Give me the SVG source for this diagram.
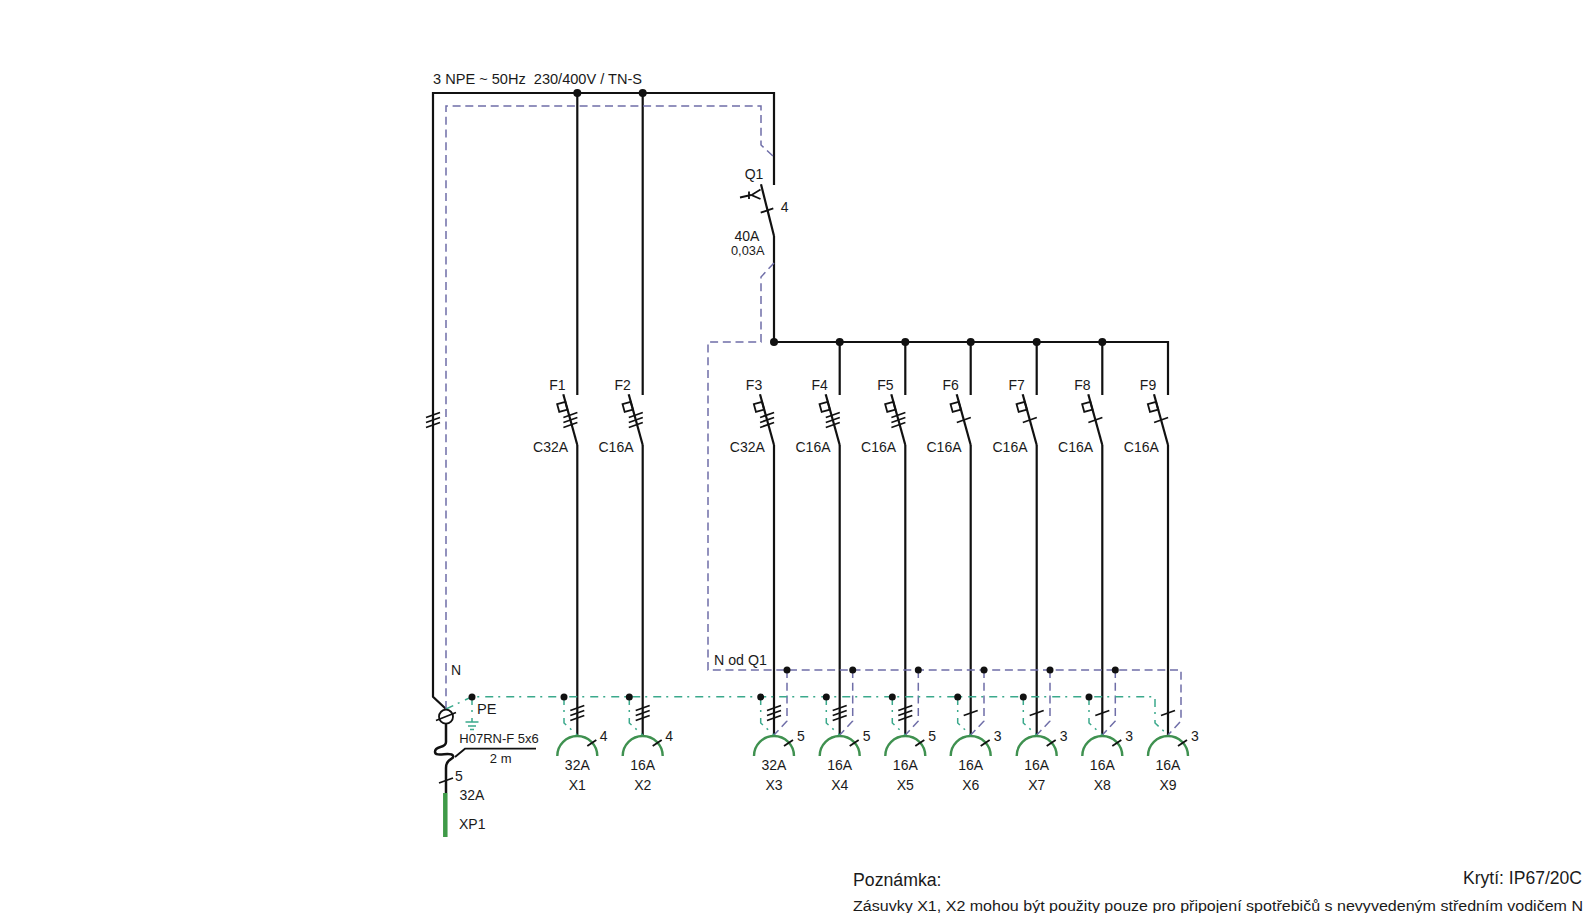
<svg xmlns="http://www.w3.org/2000/svg" width="1596" height="913" viewBox="0 0 1596 913">
<style>
text{font-family:"Liberation Sans",Arial,sans-serif;font-size:14px;fill:#1a1a1a;white-space:pre}
.m{text-anchor:middle}
.k{fill:none;stroke:#111;stroke-width:2.2}
.t{fill:none;stroke:#111;stroke-width:1.8}
.b{fill:none;stroke:#6f6ea8;stroke-width:1.5;stroke-dasharray:8 4.7}
.g{fill:none;stroke:#3ba98c;stroke-width:1.5;stroke-dasharray:8 5 2 6}
.a{fill:none;stroke:#3f9150;stroke-width:2.4}
.d{fill:#111}
</style>
<defs>
<g id="breaker"><path class="k" d="M-14 394.3L0 445"/><rect class="t" x="-8.5" y="-4" width="8.5" height="8" transform="translate(-10.9 405.7) rotate(-15.4)"/></g>
<path id="ticks1" class="t" d="M-7 2.5L7 -2.5"/>
<path id="ticks3" class="t" d="M-7 -2.5L7 -7.5M-7 2.5L7 -2.5M-7 7.5L7 2.5"/>
<g id="socket"><path class="a" d="M-20 756A20 20 0 0 1 20 756"/><path class="t" d="M10 746L19 740"/></g>
</defs>
<g id="connectors">
<path class="k" d="M446 709L433 696.7V93H774V185"/>
<path class="k" d="M774 236V342M774 342H1168V395"/>
<path class="k" d="M577.3 93V395M642.7 93V395"/>
<path class="k" d="M839.7 342V395M905.3 342V395M970.7 342V395M1036.7 342V395M1102.3 342V395"/>
<path class="k" d="M577.3 445V735M642.7 445V735M774 445V735M839.7 445V735M905.3 445V735M970.7 445V735M1036.7 445V735M1102.3 445V735M1168 445V735"/>
<path class="b" d="M446 709V106H761V145L774 157"/>
<path class="b" d="M774 263L761 277V342H708V670H1181V721L1168 735"/>
<path class="b" d="M787 670V721L774 735M852.7 670V721L839.7 735M918.3 670V721L905.3 735M984 670V721L970.7 735M1050 670V721L1036.7 735M1115.3 670V721L1102.3 735"/>
<path class="g" d="M446 709L472 696.7H1155V723L1168 735"/>
<path class="g" d="M472 697V722"/>
<path class="g" d="M564 697V723L577.3 735M629.3 697V723L642.7 735M760.7 697V723L774 735M826.3 697V723L839.7 735M892.3 697V723L905.3 735M957.7 697V723L970.7 735M1023.3 697V723L1036.7 735M1089 697V723L1102.3 735"/>
<path class="k" stroke-width="2.4" style="stroke-width:2.5" d="M446 724V742C446 749 435 745 435 751.7C435 758 451 751 453 755.7C455 760 446 757 446 768V793"/>
<path class="t" d="M455 757L465 748.7H536"/>
<use href="#ticks3" transform="translate(433 420)"/>
<g class="d"><circle cx="577.3" cy="93" r="4"/><circle cx="642.7" cy="93" r="4"/><circle cx="774" cy="342" r="4"/><circle cx="839.7" cy="342" r="4"/><circle cx="905.3" cy="342" r="4"/><circle cx="970.7" cy="342" r="4"/><circle cx="1036.7" cy="342" r="4"/><circle cx="1102.3" cy="342" r="4"/>
<circle cx="472" cy="697" r="3.5"/><circle cx="564" cy="697" r="3.5"/><circle cx="629.3" cy="697" r="3.5"/><circle cx="760.7" cy="697" r="3.5"/><circle cx="826.3" cy="697" r="3.5"/><circle cx="892.3" cy="697" r="3.5"/><circle cx="957.7" cy="697" r="3.5"/><circle cx="1023.3" cy="697" r="3.5"/><circle cx="1089" cy="697" r="3.5"/>
<circle cx="787" cy="670" r="3.5"/><circle cx="852.7" cy="670" r="3.5"/><circle cx="918.3" cy="670" r="3.5"/><circle cx="984" cy="670" r="3.5"/><circle cx="1050" cy="670" r="3.5"/><circle cx="1115.3" cy="670" r="3.5"/></g>
</g>
<text id="supply" x="433" y="84" textLength="209" lengthAdjust="spacingAndGlyphs" style="font-size:14.6px">3 NPE ~ 50Hz  230/400V / TN-S</text>
<g id="Q1"><path class="k" d="M761 184.3L774 236"/><path class="t" d="M760.7 212.7L773.3 208.3M740 197.5L751 195M749 191.5V199M760.5 189.5L751.5 195L760.5 199"/><text class="m" x="754" y="179">Q1</text><text x="780.7" y="212">4</text><text class="m" x="747" y="241">40A</text><text class="m" x="747.7" y="255" style="font-size:12.8px">0,03A</text></g>
<g id="F1" transform="translate(577.3 0)"><use href="#breaker"/><use href="#ticks3" transform="translate(-6.9 420)"/><text class="m" x="-20" y="390">F1</text><text class="m" x="-26.7" y="452">C32A</text></g>
<g id="F2" transform="translate(642.7 0)"><use href="#breaker"/><use href="#ticks3" transform="translate(-6.9 420)"/><text class="m" x="-20" y="390">F2</text><text class="m" x="-26.7" y="452">C16A</text></g>
<g id="F3" transform="translate(774 0)"><use href="#breaker"/><use href="#ticks3" transform="translate(-6.9 420)"/><text class="m" x="-20" y="390">F3</text><text class="m" x="-26.7" y="452">C32A</text></g>
<g id="F4" transform="translate(839.7 0)"><use href="#breaker"/><use href="#ticks3" transform="translate(-6.9 420)"/><text class="m" x="-20" y="390">F4</text><text class="m" x="-26.7" y="452">C16A</text></g>
<g id="F5" transform="translate(905.3 0)"><use href="#breaker"/><use href="#ticks3" transform="translate(-6.9 420)"/><text class="m" x="-20" y="390">F5</text><text class="m" x="-26.7" y="452">C16A</text></g>
<g id="F6" transform="translate(970.7 0)"><use href="#breaker"/><use href="#ticks1" transform="translate(-6.9 420)"/><text class="m" x="-20" y="390">F6</text><text class="m" x="-26.7" y="452">C16A</text></g>
<g id="F7" transform="translate(1036.7 0)"><use href="#breaker"/><use href="#ticks1" transform="translate(-6.9 420)"/><text class="m" x="-20" y="390">F7</text><text class="m" x="-26.7" y="452">C16A</text></g>
<g id="F8" transform="translate(1102.3 0)"><use href="#breaker"/><use href="#ticks1" transform="translate(-6.9 420)"/><text class="m" x="-20" y="390">F8</text><text class="m" x="-26.7" y="452">C16A</text></g>
<g id="F9" transform="translate(1168 0)"><use href="#breaker"/><use href="#ticks1" transform="translate(-6.9 420)"/><text class="m" x="-20" y="390">F9</text><text class="m" x="-26.7" y="452">C16A</text></g>
<g id="X1" transform="translate(577.3 0)"><use href="#socket"/><use href="#ticks3" transform="translate(0 713)"/><text x="22.5" y="741">4</text><text class="m" y="770">32A</text><text class="m" y="790">X1</text></g>
<g id="X2" transform="translate(642.7 0)"><use href="#socket"/><use href="#ticks3" transform="translate(0 713)"/><text x="22.5" y="741">4</text><text class="m" y="770">16A</text><text class="m" y="790">X2</text></g>
<g id="X3" transform="translate(774 0)"><use href="#socket"/><use href="#ticks3" transform="translate(0 713)"/><text x="23" y="741">5</text><text class="m" y="770">32A</text><text class="m" y="790">X3</text></g>
<g id="X4" transform="translate(839.7 0)"><use href="#socket"/><use href="#ticks3" transform="translate(0 713)"/><text x="23" y="741">5</text><text class="m" y="770">16A</text><text class="m" y="790">X4</text></g>
<g id="X5" transform="translate(905.3 0)"><use href="#socket"/><use href="#ticks3" transform="translate(0 713)"/><text x="23" y="741">5</text><text class="m" y="770">16A</text><text class="m" y="790">X5</text></g>
<g id="X6" transform="translate(970.7 0)"><use href="#socket"/><use href="#ticks1" transform="translate(0 713)"/><text x="23" y="741">3</text><text class="m" y="770">16A</text><text class="m" y="790">X6</text></g>
<g id="X7" transform="translate(1036.7 0)"><use href="#socket"/><use href="#ticks1" transform="translate(0 713)"/><text x="23" y="741">3</text><text class="m" y="770">16A</text><text class="m" y="790">X7</text></g>
<g id="X8" transform="translate(1102.3 0)"><use href="#socket"/><use href="#ticks1" transform="translate(0 713)"/><text x="23" y="741">3</text><text class="m" y="770">16A</text><text class="m" y="790">X8</text></g>
<g id="X9" transform="translate(1168 0)"><use href="#socket"/><use href="#ticks1" transform="translate(0 713)"/><text x="23" y="741">3</text><text class="m" y="770">16A</text><text class="m" y="790">X9</text></g>
<g id="gland"><circle cx="446" cy="716.7" r="7" fill="#fff" stroke="#111" stroke-width="1.8"/><path class="t" d="M436 720.5L456 712.5"/></g>
<g id="PE"><path d="M465.5 722H478.5M468 726H476M470 729.5H474" fill="none" stroke="#3ba98c" stroke-width="1.4"/><text x="477" y="714" style="font-size:14.6px">PE</text></g>
<text id="N" x="451" y="675">N</text>
<text id="NQ1" x="714" y="665" style="font-size:14.2px">N od Q1</text>
<g id="XP1"><path d="M445.3 793V837" fill="none" stroke="#3f9a48" stroke-width="4.5"/><path class="t" d="M439 783L453 778"/><text x="455" y="781">5</text><text x="459.5" y="800">32A</text><text x="459" y="829">XP1</text></g>
<g id="cable"><text x="459.3" y="743" textLength="79.5" lengthAdjust="spacingAndGlyphs" style="font-size:13px">H07RN-F 5x6</text><text class="m" x="500.7" y="763" style="font-size:13px">2 m</text></g>
<g id="note"><text x="853" y="886" textLength="88.5" lengthAdjust="spacingAndGlyphs" style="font-size:18px">Poznámka:</text><text x="1463" y="884" textLength="119" lengthAdjust="spacingAndGlyphs" style="font-size:18px">Krytí: IP67/20C</text><text x="853" y="911" textLength="730" lengthAdjust="spacingAndGlyphs" style="font-size:15.5px">Zásuvky X1, X2 mohou být použity pouze pro připojení spotřebičů s nevyvedeným středním vodičem N</text></g>
</svg>
